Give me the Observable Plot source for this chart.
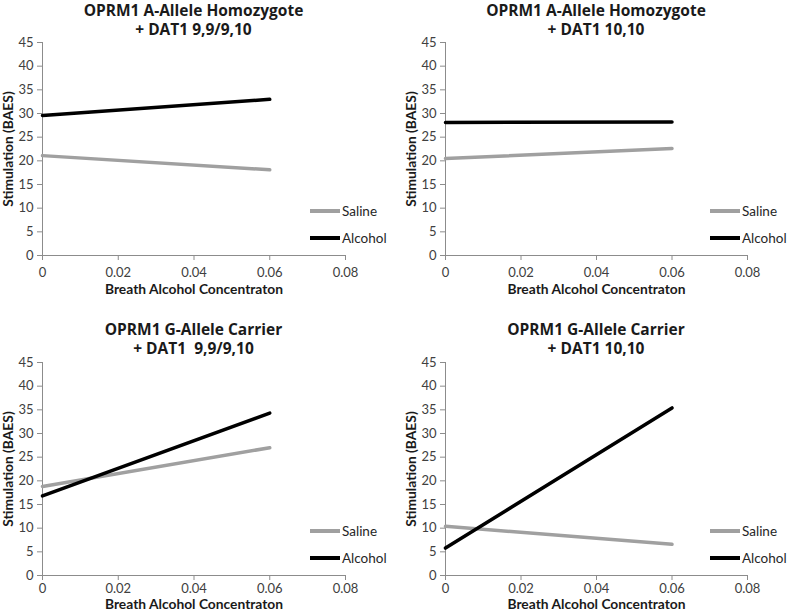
<!DOCTYPE html>
<html>
<head>
<meta charset="utf-8">
<script src="https://cdn.jsdelivr.net/npm/d3@7"></script>
<script src="https://cdn.jsdelivr.net/npm/@observablehq/plot@0.6"></script>
<style>
  body { margin: 0; background: #fff; }
  #chart { position: relative; width: 790px; height: 611px; background: #fff; font-family: Lato, "Open Sans", sans-serif; }
  .panel { position: absolute; }
  .panel svg { position: absolute; left: 0; top: 0; overflow: visible; }
  .title { position: absolute; text-align: center; font-family: "Open Sans", Lato, sans-serif; font-weight: bold; font-size: 15.5px; line-height: 19px; color: #1a1a1a; white-space: pre; }
  .legend { position: absolute; font-size: 13.5px; color: #262626; }
  .legend .row { position: absolute; display: flex; align-items: center; white-space: nowrap; }
  .legend .sw { width: 30px; height: 3.5px; margin-right: 2px; }
  .panel svg g[aria-label="x-axis label"] text,
  .panel svg g[aria-label="y-axis label"] text { font-weight: bold; font-size: 13.8px; fill: #1a1a1a; }
</style>
</head>
<body>
<div id="chart"></div>
<script>
// ---- data ----
const titles = [
  ["OPRM1 A-Allele Homozygote", "+ DAT1 9,9/9,10"],
  ["OPRM1 A-Allele Homozygote", "+ DAT1 10,10"],
  ["OPRM1 G-Allele Carrier", "+ DAT1  9,9/9,10"],
  ["OPRM1 G-Allele Carrier", "+ DAT1 10,10"]
];
const bac = [0, 0.06];                       // breath alcohol concentration (x)
const salineVals  = [[21.1, 18.1], [20.5, 22.6], [18.8, 27.0], [10.4, 6.6]];
const alcoholVals = [[29.6, 33.0], [28.1, 28.2], [16.8, 34.3], [5.8, 35.4]];
const seriesNames = ["Saline", "Alcohol"];
const xTicks = [0, 0.02, 0.04, 0.06, 0.08];
const xTickLabels = ["0", "0.02", "0.04", "0.06", "0.08"];
const yTicks = [0, 5, 10, 15, 20, 25, 30, 35, 40, 45];
const xLabel = "Breath Alcohol Concentraton";
const yLabel = "Stimulation (BAES)";

// ---- layout ----
const colors = {Saline: "#a0a0a0", Alcohol: "#000000"};
const panels = [
  {left: 0,   top: 0,   width: 395, height: 300, ml: 42, mr: 50, mt: 42, mb: 45, titleTop: 1,  legX: 310, legY: [211, 238], tp: 7, lo: 38},
  {left: 395, top: 0,   width: 395, height: 300, ml: 50, mr: 43, mt: 42, mb: 45, titleTop: 1,  legX: 315, legY: [211, 238], tp: 7, lo: 38},
  {left: 0,   top: 300, width: 395, height: 311, ml: 42, mr: 50, mt: 62, mb: 36, titleTop: 20, legX: 310, legY: [231, 258], tp: 3, lo: 33},
  {left: 395, top: 300, width: 395, height: 311, ml: 50, mr: 43, mt: 62, mb: 36, titleTop: 20, legX: 315, legY: [231, 258], tp: 3, lo: 33}
];

const chart = document.getElementById("chart");

panels.forEach((p, i) => {
  const div = document.createElement("div");
  div.className = "panel";
  Object.assign(div.style, {left: p.left + "px", top: p.top + "px", width: p.width + "px", height: p.height + "px"});
  chart.appendChild(div);

  const rows = [];
  bac.forEach((x, k) => {
    rows.push({x, y: salineVals[i][k], s: "Saline"});
    rows.push({x, y: alcoholVals[i][k], s: "Alcohol"});
  });

  const svg = Plot.plot({
    width: p.width,
    height: p.height,
    marginLeft: p.ml, marginRight: p.mr, marginTop: p.mt, marginBottom: p.mb,
    style: {fontFamily: "Lato, 'Open Sans', sans-serif", fontSize: "13px", background: "transparent", color: "#404040"},
    x: {domain: [0, 0.08]},
    y: {domain: [0, 45]},
    marks: [
      Plot.ruleX([0], {stroke: "#8c8c8c"}),
      Plot.ruleY([0], {stroke: "#8c8c8c"}),
      Plot.axisY({ticks: yTicks, tickSize: 5, tickPadding: 4, stroke: "#8c8c8c", fill: "#404040",
                  label: yLabel, labelAnchor: "center", labelArrow: "none", labelOffset: 39}),
      Plot.axisX({ticks: xTicks, tickFormat: (d) => xTickLabels[xTicks.indexOf(d)], tickSize: 5, tickPadding: p.tp,
                  stroke: "#8c8c8c", fill: "#404040",
                  label: xLabel, labelAnchor: "center", labelArrow: "none", labelOffset: p.lo}),
      Plot.line(rows, {x: "x", y: "y", z: "s", stroke: (d) => colors[d.s], strokeWidth: 3.5})
    ]
  });
  div.appendChild(svg);

  const t = document.createElement("div");
  t.className = "title";
  Object.assign(t.style, {left: p.ml + "px", width: (p.width - p.ml - p.mr) + "px", top: p.titleTop + "px"});
  t.textContent = titles[i].join("\n");
  div.appendChild(t);

  const leg = document.createElement("div");
  leg.className = "legend";
  div.appendChild(leg);
  seriesNames.forEach((name, k) => {
    const row = document.createElement("div");
    row.className = "row";
    Object.assign(row.style, {left: p.legX + "px", top: (p.legY[k] - 10) + "px", height: "20px"});
    const sw = document.createElement("span");
    sw.className = "sw";
    sw.style.background = colors[name];
    const lab = document.createElement("span");
    lab.textContent = name;
    row.appendChild(sw);
    row.appendChild(lab);
    leg.appendChild(row);
  });
});
</script>
</body>
</html>
